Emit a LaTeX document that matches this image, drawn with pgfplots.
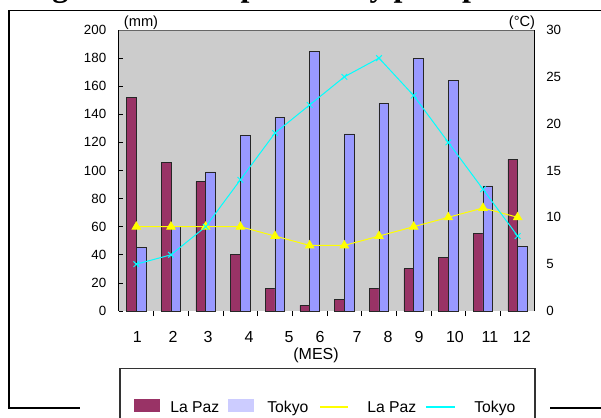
\documentclass[border=0pt]{standalone}
\usepackage{fontspec}
\setmainfont{Liberation Sans}
\newfontfamily\titlefont{Liberation Serif}
\usepackage{pgfplots}
\usepackage{pgfplotstable}
\pgfplotsset{compat=1.18}
\definecolor{lapaz}{HTML}{993366}
\definecolor{tokyo}{HTML}{9999FF}
\definecolor{tokyoleg}{HTML}{CCCCFF}
\definecolor{plotbg}{HTML}{CCCCCC}
\definecolor{ylw}{HTML}{FFFF00}
\definecolor{cyn}{HTML}{00FFFF}

\pgfplotstableread{
mes prlp prtk tlp ttk
1 152 45 9 5
2 106 60 9 6
3 92 99 9 9
4 40 125 9 14
5 16 138 8 19
6 4 185 7 22
7 8 126 7 25
8 16 148 8 27
9 30 180 9 23
10 38 164 10 18
11 55 89 11 13
12 108 46 10 8
}\datatable

\begin{document}
\begin{tikzpicture}
\path[use as bounding box] (0,0) rectangle (450.75pt,-313.5pt);
\clip (0,0) rectangle (450.75pt,-313.5pt);
\begin{scope}[x=0.75pt,y=-0.75pt]
  \node[anchor=base west, inner sep=0pt, font=\titlefont\bfseries\fontsize{24}{28}\selectfont] at (4,-4) {Diagrama de temperatura y precipitación};
  \draw[black, line width=1.1pt] (610,10.7) -- (9,10.7) -- (9,408) -- (80,408);
  \draw[black, line width=1.1pt] (550,408) -- (610,408);
  \draw[black!80, line width=0.9pt, fill=white] (120,368.5) rectangle (535,440);
  \fill[lapaz] (134,399) rectangle (160,412);
  \node[anchor=base west, inner sep=0pt, font=\fontsize{11.8}{14}\selectfont] at (170,412) {La Paz};
  \fill[tokyoleg] (228,399) rectangle (254,412);
  \node[anchor=base west, inner sep=0pt, font=\fontsize{11.8}{14}\selectfont] at (267,412) {Tokyo};
  \draw[ylw, line width=1.5pt] (320,407) -- (348,407);
  \node[anchor=base west, inner sep=0pt, font=\fontsize{11.8}{14}\selectfont] at (367,412) {La Paz};
  \draw[cyn, line width=1.5pt] (426,407) -- (455,407);
  \node[anchor=base west, inner sep=0pt, font=\fontsize{11.8}{14}\selectfont] at (474,412) {Tokyo};
\end{scope}

\begin{axis}[
  scale only axis, width=312pt, height=210.75pt,
  at={(89.25pt,-233.25pt)}, anchor=south west,
  xmin=0.5, xmax=12.5, ymin=0, ymax=200,
  axis background/.style={fill=plotbg},
  axis x line*=bottom, axis y line*=left,
  x axis line style={draw=none},
  y axis line style={black, line width=0.75pt},
  tick align=inside,
  xtick={1.028,2.058,3.067,4.25,5.403,6.297,7.365,8.259,9.153,10.191,11.2,12.12},
  xticklabels={1,2,3,4,5,6,7,8,9,10,11,12},
  minor xtick={1.5,2.5,...,11.5},
  every major x tick/.append style={draw=none},
  every minor x tick/.append style={black, line width=0.6pt},
  minor tick length=3.75pt, major tick length=3pt,
  every major y tick/.append style={black, line width=0.6pt},
  ytick={0,20,...,200},
  yticklabel style={font=\fontsize{10}{12}\selectfont, inner sep=0pt, xshift=-9.4pt},
  xticklabel style={font=\fontsize{12}{14}\selectfont, inner sep=0pt, yshift=-12pt},
  /pgf/number format/assume math mode=true,
  ybar=0pt, bar width=7.3pt,
  xlabel={(MES)},
  every axis x label/.style={at={(axis description cs:0.4736,-0.1584)}, anchor=center, font=\fontsize{12}{14}\selectfont},
  ylabel={(mm)},
  every axis y label/.style={at={(axis description cs:0.0529,1.025)}, anchor=center, font=\fontsize{11}{13}\selectfont},
]
\addplot[fill=lapaz, draw=black!85, line width=0.6pt] table[x=mes,y=prlp]{\datatable};
\addplot[fill=tokyo, draw=black!85, line width=0.6pt] table[x=mes,y=prtk]{\datatable};
\draw[black!60, line width=0.75pt] (rel axis cs:0,1) -- (rel axis cs:1,1);
\end{axis}

\begin{axis}[
  scale only axis, width=312pt, height=210.75pt,
  at={(89.25pt,-233.25pt)}, anchor=south west,
  xmin=0.5, xmax=12.5, ymin=0, ymax=30,
  axis x line=none, axis y line*=right,
  y axis line style={black, line width=0.75pt},
  ytick={0,5,...,30}, major tick length=0pt,
  yticklabel style={font=\fontsize{10}{12}\selectfont, inner sep=0pt, xshift=8.25pt},
  /pgf/number format/assume math mode=true,
  ylabel={(°C)},
  every axis y label/.style={at={(axis description cs:0.9688,1.026)}, anchor=center, font=\fontsize{11}{13}\selectfont},
]
\addplot[ylw, line width=0.75pt, mark=triangle*, mark size=3.5pt, mark options={fill=ylw, draw=ylw}] table[x=mes,y=tlp]{\datatable};
\addplot[cyn, line width=0.75pt, mark=x, mark size=3pt] table[x=mes,y=ttk]{\datatable};
\end{axis}
\end{tikzpicture}
\end{document}
